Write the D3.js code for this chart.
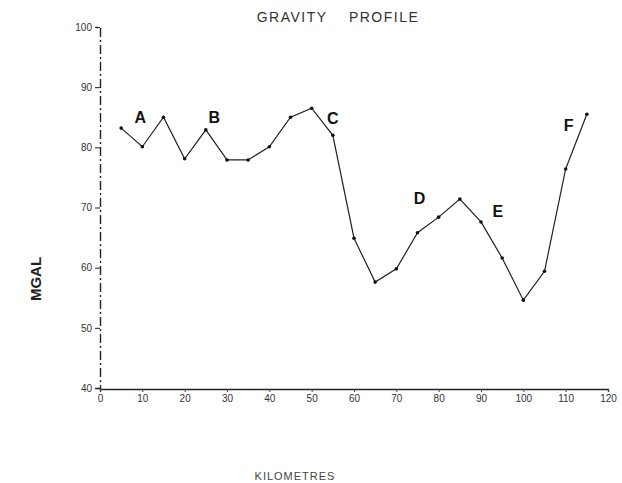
<!DOCTYPE html>
<html>
<head>
<meta charset="utf-8">
<script src="https://cdn.jsdelivr.net/npm/d3@7"></script>
<style>
  html, body { margin: 0; padding: 0; background: #fff; }
  svg { display: block; font-family: "Liberation Sans", Arial, sans-serif; }
</style>
</head>
<body>
<svg id="grafico" width="622" height="483"></svg>
<script>
// distância ao longo do perfil (km) e anomalia gravimétrica (mGal)
const km = [5, 10, 15, 20, 25, 30, 35, 40, 45, 50, 55, 60, 65, 70, 75, 80, 85, 90, 95, 100, 105, 110, 115];
const mgal = [83.2, 80.1, 85.0, 78.1, 82.9, 77.9, 77.9, 80.1, 85.0, 86.5, 82.0, 64.9, 57.6, 59.8, 65.8, 68.4, 71.4, 67.6, 61.6, 54.6, 59.4, 76.4, 85.5];

const ticksX = [0, 10, 20, 30, 40, 50, 60, 70, 80, 90, 100, 110, 120];
const ticksY = [40, 50, 60, 70, 80, 90, 100];

// letras das estações marcadas no perfil
const letras = ["A", "B", "C", "D", "E", "F"];
const letrasKm = [9.5, 27, 55, 75.5, 94, 110.7];
const letrasMgal = [85.0, 85.0, 84.9, 71.6, 69.4, 83.7];

const W = 622;
const H = 483;
const margin = { top: 27, right: 14, bottom: 95, left: 100 };
const plotW = W - margin.left - margin.right;
const plotH = H - margin.top - margin.bottom;

const x = d3.scaleLinear().domain([0, 120]).range([0, plotW]);
const y = d3.scaleLinear().domain([40, 100]).range([plotH, 0]);

const svg = d3.select("#grafico");
const g = svg.append("g").attr("transform", `translate(${margin.left},${margin.top})`);

g.append("g")
  .call(d3.axisLeft(y).tickValues(ticksY).tickSize(5).tickPadding(3))
  .call((sel) => sel.select(".domain").attr("stroke", "#222").attr("stroke-width", 1.4).attr("stroke-dasharray", "9 3 2 3"))
  .call((sel) => sel.selectAll("line").attr("stroke", "#222"))
  .call((sel) => sel.selectAll("text").attr("fill", "#333").attr("font-size", "10px"));

g.append("g")
  .attr("transform", `translate(0,${plotH + 1})`)
  .call(d3.axisBottom(x).tickValues(ticksX).tickSize(3).tickPadding(3))
  .call((sel) => sel.select(".domain").attr("stroke", "#222").attr("stroke-width", 1.4))
  .call((sel) => sel.selectAll("line").attr("stroke", "#444"))
  .call((sel) => sel.selectAll("text").attr("fill", "#333").attr("font-size", "10px"));

const pontos = km.map((k, i) => ({ km: k, mgal: mgal[i] }));

g.append("path")
  .datum(pontos)
  .attr("fill", "none")
  .attr("stroke", "#222")
  .attr("stroke-width", 1.2)
  .attr("d", d3.line().x((d) => x(d.km)).y((d) => y(d.mgal)));

g.selectAll("circle.ponto")
  .data(pontos)
  .join("circle")
  .attr("class", "ponto")
  .attr("cx", (d) => x(d.km))
  .attr("cy", (d) => y(d.mgal))
  .attr("r", 1.8)
  .attr("fill", "#111");

g.selectAll("text.letra")
  .data(letras)
  .join("text")
  .attr("class", "letra")
  .attr("x", (d, i) => x(letrasKm[i]))
  .attr("y", (d, i) => y(letrasMgal[i]) + 6)
  .attr("text-anchor", "middle")
  .attr("font-size", "16px")
  .attr("font-weight", "bold")
  .attr("fill", "#111")
  .text((d) => d);

svg.append("text")
  .attr("x", 338)
  .attr("y", 22)
  .attr("text-anchor", "middle")
  .attr("font-size", "14px")
  .attr("letter-spacing", "1.5px")
  .attr("fill", "#333")
  .attr("xml:space", "preserve")
  .text("GRAVITY    PROFILE");

svg.append("text")
  .attr("transform", "translate(41,279) rotate(-90)")
  .attr("text-anchor", "middle")
  .attr("font-size", "15px")
  .attr("font-weight", "bold")
  .attr("fill", "#222")
  .text("MGAL");

svg.append("text")
  .attr("x", 295)
  .attr("y", 480)
  .attr("text-anchor", "middle")
  .attr("font-size", "11px")
  .attr("letter-spacing", "1px")
  .attr("fill", "#444")
  .text("KILOMETRES");
</script>
</body>
</html>
